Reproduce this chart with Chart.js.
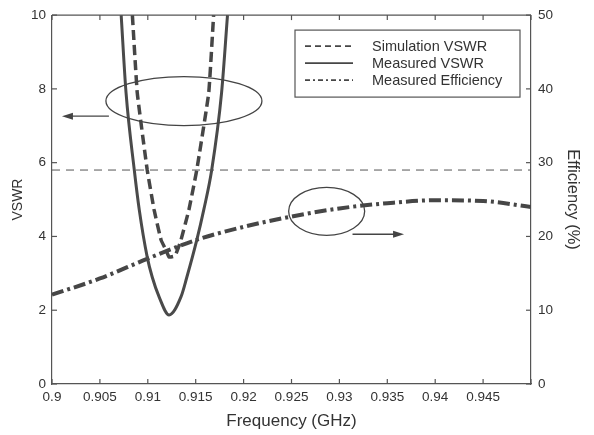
<!DOCTYPE html>
<html>
<head>
<meta charset="utf-8">
<script src="https://cdn.jsdelivr.net/npm/chart.js@4/dist/chart.umd.min.js"></script>
<style>
  html, body { margin: 0; padding: 0; background: #fff; }
  #wrap { width: 594px; height: 435px; position: relative; }
</style>
</head>
<body>
<div id="wrap"><canvas id="vswrChart"></canvas></div>
<script>
// ---- data ----
const freqSim = [0.90839, 0.9089, 0.90994, 0.91066, 0.91139, 0.9119, 0.91222, 0.91284, 0.91325, 0.91346, 0.91429, 0.91511, 0.91636, 0.91687];
const vswrSim = [10, 7.89, 5.8, 4.72, 3.9, 3.63, 3.44, 3.47, 3.74, 3.9, 4.72, 5.8, 7.89, 10];

const freqMeas = [0.90722, 0.90773, 0.90859, 0.90911, 0.90994, 0.91046, 0.91118, 0.91222, 0.91346, 0.91408, 0.91511, 0.91584, 0.91667, 0.9177, 0.91832];
const vswrMeas = [10, 7.89, 5.8, 4.72, 3.44, 2.9, 2.36, 1.87, 2.36, 2.9, 3.9, 4.72, 5.8, 7.89, 10];

const freqEff = [0.9, 0.905, 0.91, 0.915, 0.92, 0.925, 0.93, 0.935, 0.94, 0.945, 0.95];
const effMeas = [12.1, 14.3, 17.0, 19.5, 21.3, 22.7, 23.8, 24.5, 24.9, 24.8, 24.0];

const refFreq = [0.9, 0.95];
const refVswr = [5.8, 5.8];

const xTickValues = [0.9, 0.905, 0.91, 0.915, 0.92, 0.925, 0.93, 0.935, 0.94, 0.945, 0.95];
const xTickLabels = ['0.9', '0.905', '0.91', '0.915', '0.92', '0.925', '0.93', '0.935', '0.94', '0.945', ''];
const vswrTicks = [0, 2, 4, 6, 8, 10];
const effTicks = [0, 10, 20, 30, 40, 50];

const legendLabels = ['Simulation VSWR', 'Measured VSWR', 'Measured Efficiency'];

const pts = (xs, ys) => xs.map((x, i) => ({ x: x, y: ys[i] }));

const ink = '#464646';
const axisInk = '#555';
const textInk = '#333';
const font = "'Liberation Sans', Arial, sans-serif";

// inward ticks, top frame, ellipses, arrows, legend
const overlay = {
  id: 'overlay',
  afterDatasetsDraw(chart) {
    const { ctx, chartArea: a, scales: { x, y, y2 } } = chart;
    ctx.save();
    ctx.strokeStyle = axisInk;
    ctx.lineWidth = 1.2;
    ctx.setLineDash([]);
    const line = (x1, y1, x2, y2_) => { ctx.beginPath(); ctx.moveTo(x1, y1); ctx.lineTo(x2, y2_); ctx.stroke(); };

    line(a.left, a.top, a.right, a.top);
    x.ticks.forEach(t => {
      const px = x.getPixelForValue(t.value);
      line(px, a.bottom, px, a.bottom - 5);
      line(px, a.top, px, a.top + 5);
    });
    y.ticks.forEach(t => { const py = y.getPixelForValue(t.value); line(a.left, py, a.left + 5, py); });
    y2.ticks.forEach(t => { const py = y2.getPixelForValue(t.value); line(a.right, py, a.right - 5, py); });

    // annotation 1: ellipse round the VSWR curves, arrow to the left axis
    ctx.lineWidth = 1.3;
    ctx.strokeStyle = '#444';
    const e1x = x.getPixelForValue(0.91377), e1y = y.getPixelForValue(7.67);
    ctx.beginPath(); ctx.ellipse(e1x, e1y, 78, 24.5, 0, 0, Math.PI * 2); ctx.stroke();
    const a1y = y.getPixelForValue(7.26);
    const a1x = x.getPixelForValue(0.90104);
    line(e1x - 75, a1y, a1x + 6, a1y);
    ctx.fillStyle = '#444';
    ctx.beginPath(); ctx.moveTo(a1x, a1y); ctx.lineTo(a1x + 11, a1y - 3.5); ctx.lineTo(a1x + 11, a1y + 3.5); ctx.closePath(); ctx.fill();

    // annotation 2: ellipse round the efficiency curve, arrow to the right axis
    const e2x = x.getPixelForValue(0.92867), e2y = y2.getPixelForValue(23.4);
    ctx.beginPath(); ctx.ellipse(e2x, e2y, 38, 24, 0, 0, Math.PI * 2); ctx.stroke();
    const a2y = y2.getPixelForValue(20.3);
    const a2x0 = x.getPixelForValue(0.93137), a2x1 = x.getPixelForValue(0.93675);
    line(a2x0, a2y, a2x1 - 6, a2y);
    ctx.beginPath(); ctx.moveTo(a2x1, a2y); ctx.lineTo(a2x1 - 11, a2y - 3.5); ctx.lineTo(a2x1 - 11, a2y + 3.5); ctx.closePath(); ctx.fill();

    // legend box
    const lx = a.left + 243, ly = a.top + 15, lw = 225, lh = 67;
    ctx.fillStyle = '#fff';
    ctx.fillRect(lx, ly, lw, lh);
    ctx.strokeStyle = axisInk; ctx.lineWidth = 1.2;
    ctx.strokeRect(lx, ly, lw, lh);
    const dashes = [[6, 4], [], [5, 3, 2, 3]];
    ctx.font = '14.5px ' + font;
    ctx.textBaseline = 'middle';
    legendLabels.forEach((lab, i) => {
      const yy = ly + 16 + i * 17;
      ctx.strokeStyle = ink; ctx.lineWidth = 1.8;
      ctx.setLineDash(dashes[i]);
      line(lx + 10, yy, lx + 58, yy);
      ctx.setLineDash([]);
      ctx.fillStyle = textInk;
      ctx.fillText(lab, lx + 77, yy + 1);
    });
    ctx.restore();
  }
};

new Chart(document.getElementById('vswrChart'), {
  type: 'line',
  data: {
    datasets: [
      { label: 'ref', data: pts(refFreq, refVswr), yAxisID: 'y', borderColor: '#555', borderWidth: 1, borderDash: [8, 6], pointRadius: 0, tension: 0 },
      { label: legendLabels[0], data: pts(freqSim, vswrSim), yAxisID: 'y', borderColor: ink, borderWidth: 3.5, borderDash: [10, 5], pointRadius: 0, tension: 0.1 },
      { label: legendLabels[1], data: pts(freqMeas, vswrMeas), yAxisID: 'y', borderColor: '#4a4a4a', borderWidth: 3, pointRadius: 0, cubicInterpolationMode: 'monotone' },
      { label: legendLabels[2], data: pts(freqEff, effMeas), yAxisID: 'y2', borderColor: ink, borderWidth: 4, borderDash: [12, 4, 3, 4], pointRadius: 0, cubicInterpolationMode: 'monotone' }
    ]
  },
  options: {
    responsive: true,
    maintainAspectRatio: false,
    animation: false,
    layout: { padding: { top: 15, left: 0, right: 0, bottom: 0 } },
    plugins: { legend: { display: false }, tooltip: { enabled: false } },
    scales: {
      x: {
        type: 'linear', min: 0.9, max: 0.95,
        afterBuildTicks: s => { s.ticks = xTickValues.map(v => ({ value: v })); },
        afterFit: s => { s.height = 51; },
        grid: { display: false, drawTicks: false },
        border: { display: true, color: axisInk, width: 1.2 },
        ticks: { color: textInk, font: { family: font, size: 13.5 }, padding: 5, maxRotation: 0, autoSkip: false,
                 callback: (v, i) => xTickLabels[i] },
        title: { display: true, text: 'Frequency (GHz)', color: textInk, font: { family: font, size: 17 }, padding: { top: 0, bottom: 3 } }
      },
      y: {
        position: 'left', min: 0, max: 10,
        afterBuildTicks: s => { s.ticks = vswrTicks.map(v => ({ value: v })); },
        afterFit: s => { s.width = 52; },
        grid: { display: false, drawTicks: false },
        border: { display: true, color: axisInk, width: 1.2 },
        ticks: { color: textInk, font: { family: font, size: 13.5 }, padding: 6 },
        title: { display: true, text: 'VSWR', color: textInk, font: { family: font, size: 14 }, padding: { top: 10, bottom: 0 } }
      },
      y2: {
        position: 'right', min: 0, max: 50,
        afterBuildTicks: s => { s.ticks = effTicks.map(v => ({ value: v })); },
        afterFit: s => { s.width = 63; },
        grid: { display: false, drawTicks: false },
        border: { display: true, color: axisInk, width: 1.2 },
        ticks: { color: textInk, font: { family: font, size: 13.5 }, padding: 7 },
        title: { display: true, text: 'Efficiency (%)', color: textInk, font: { family: font, size: 16.5 }, padding: { top: 12, bottom: 0 } }
      }
    }
  },
  plugins: [overlay]
});
</script>
</body>
</html>
